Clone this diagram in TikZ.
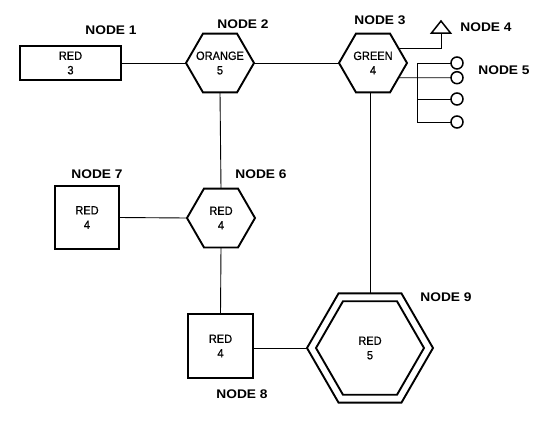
\documentclass[tikz,border=0pt]{standalone}
\usepackage{fontspec}
\setmainfont{Liberation Sans}
\newfontfamily\lblfont{Liberation Sans Bold}[FakeStretch=1.1]
\newfontfamily\infont{Liberation Sans}[FakeStretch=0.92,FakeBold=0.6]
\usetikzlibrary{shapes.geometric}
\begin{document}
\begin{tikzpicture}[x=1pt,y=-1pt,
  conn/.style={line width=0.9pt},
  shp/.style={draw,line width=1.9pt,inner sep=0pt,outer sep=0pt},
  hexa/.style={shp,regular polygon,regular polygon sides=6,minimum size=68pt},
  boxa/.style={shp,rectangle},
  intext/.style={font=\infont\fontsize{12}{14.5}\selectfont,align=center,inner sep=0pt},
  nlabel/.style={font=\lblfont\fontsize{12.5}{14}\selectfont,inner sep=0pt},
  bead/.style={draw,circle,line width=1.5pt,minimum size=12pt,inner sep=0pt,outer sep=0pt}]
\useasboundingbox (0,0) rectangle (544,424);
% shapes
\node[boxa,minimum width=101pt,minimum height=34pt] (box1) at (70.5,63) {};
\node[intext] (t1) at (box1.center) {RED\\3};
\node[hexa] (hex2) at (220,63) {};
\node[intext] (t2) at (hex2.center) {ORANGE\\5};
\node[hexa] (hex3) at (373,63) {};
\node[intext] (t3) at (hex3.center) {GREEN\\4};
\node[hexa] (hex6) at (221,218) {};
\node[intext] (t6) at (hex6.center) {RED\\4};
\node[boxa,minimum width=64pt,minimum height=63pt] (box7) at (87,217.5) {};
\node[intext] (t7) at (box7.center) {RED\\4};
\node[boxa,minimum width=65pt,minimum height=64pt] (box8) at (220.5,346) {};
\node[intext] (t8) at (box8.center) {RED\\4};
\node[shp,regular polygon,regular polygon sides=6,minimum size=126pt] (hex9) at (370,348) {};
\node[shp,regular polygon,regular polygon sides=6,minimum size=108pt] (hex9i) at (370,348) {};
\node[intext] (t9) at (hex9.center) {RED\\5};
% node 4 triangle
\coordinate (tri) at (441,33);
\draw[line width=1.5pt,line join=miter] (tri) ++(-9.5,0) -- ++(9.5,-12) -- ++(9.5,12) -- cycle;
% node 5 beads
\node[bead] (c1) at (457,63) {};
\node[bead] (c2) at (457,77.7) {};
\node[bead] (c3) at (457,99) {};
\node[bead] (c4) at (457,122) {};
\coordinate (busx) at (417,0);
% connectors
\draw[conn] (box1.east) -- (hex2.west);
\draw[conn] (hex2.east) -- (hex3.west);
\draw[conn] (hex2.south) -- (hex6.north);
\draw[conn] (box7.east) -- (hex6.west);
\draw[conn] (hex6.south) -- (box8.north);
\draw[conn] (hex9.west) -- (hex9.west -| box8.east);
\draw[conn] (hex9.north) -- (hex9.north |- hex3.south);
\draw[conn] (hex3.30) -| (tri);
\draw[conn] (hex3.-30) -- (c2.west);
\draw[conn] (c1.west -| busx) -- (c4.west -| busx);
\draw[conn] (c1.west -| busx) -- (c1.west);
\draw[conn] (c3.west -| busx) -- (c3.west);
\draw[conn] (c4.west -| busx) -- (c4.west);
% labels
\node[nlabel] (l1) at (111,30) {NODE 1};
\node[nlabel] (l2) at (243,24) {NODE 2};
\node[nlabel] (l3) at (380,20) {NODE 3};
\node[nlabel] (l4) at (486,27) {NODE 4};
\node[nlabel] (l5) at (504,70) {NODE 5};
\node[nlabel] (l6) at (261,174) {NODE 6};
\node[nlabel] (l7) at (97,174) {NODE 7};
\node[nlabel] (l8) at (242,394) {NODE 8};
\node[nlabel] (l9) at (446,297) {NODE 9};
\end{tikzpicture}
\end{document}
